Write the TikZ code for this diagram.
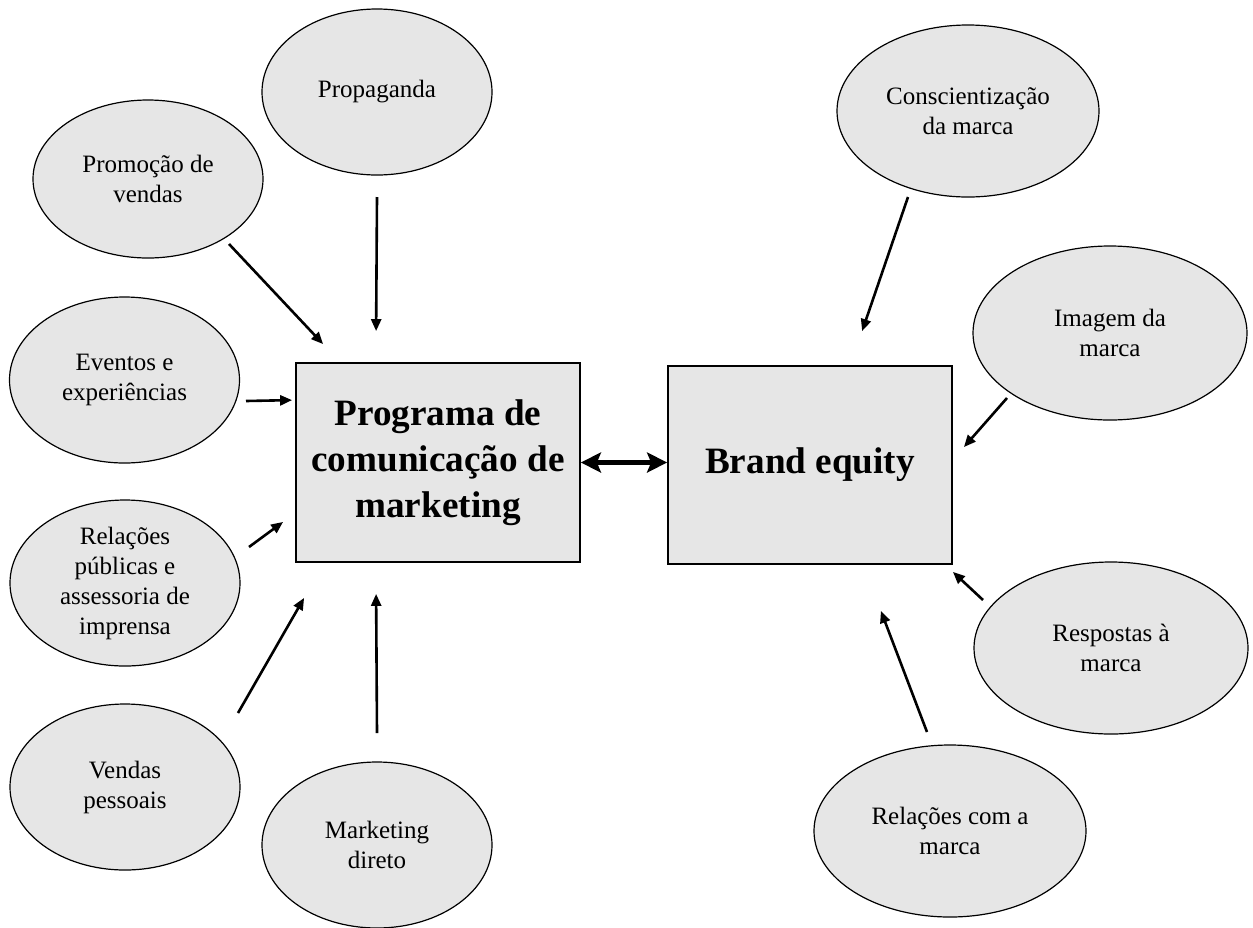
\documentclass[tikz,border=0pt]{standalone}
\usepackage{fontspec}
\setmainfont{Liberation Serif}
\usetikzlibrary{shapes.geometric,arrows.meta}
\definecolor{bubblegray}{HTML}{E6E6E6}
\begin{document}
\begin{tikzpicture}[x=0.5pt,y=-0.5pt,
  bubble/.style={ellipse,draw,line width=0.6pt,fill=bubblegray,minimum width=115pt,minimum height=83pt,inner sep=0pt,inner ysep=-4pt,align=center,font=\fontsize{12.5}{15}\selectfont},
  bigbox/.style={draw,line width=0.9pt,fill=bubblegray,minimum width=142pt,minimum height=99.5pt,align=center,font=\bfseries\fontsize{18.6}{23}\selectfont},
  arr/.style={-{Triangle[length=6pt,width=5pt]},line width=1.3pt},
  dblarr/.style={{Stealth[length=10pt,width=10pt,inset=2pt]}-{Stealth[length=10pt,width=10pt,inset=2pt]},line width=2.4pt}]
  \useasboundingbox (0,0) rectangle (1253,927);
  % the two boxes
  \node[bigbox] (prog) at (438,462.5) {Programa de\\comunicação de\\marketing};
  \node[bigbox,minimum height=99pt] (brand) at (810,465) {Brand equity};
  % communication tools, left side
  \node[bubble] (prop) at (377,92) {Propaganda};
  \node[bubble,minimum height=79pt] (prom) at (148,179) {Promoção de\\vendas};
  \node[bubble] (evt) at (124.5,380) {Eventos e\\experiências};
  \node[bubble] (rp) at (125,583) {Relações\\públicas e\\assessoria de\\imprensa};
  \node[bubble] (vp) at (125,787) {Vendas\\pessoais};
  \node[bubble] (mkt) at (377,845) {Marketing\\direto};
  % brand equity parts, right side
  \node[bubble,minimum width=131pt,minimum height=86pt] (cons) at (968,111) {Conscientização\\da marca};
  \node[bubble,minimum width=137pt,minimum height=87pt] (img) at (1110,333) {Imagem da\\marca};
  \node[bubble,minimum width=137pt,minimum height=86pt] (resp) at (1111,648) {Respostas à\\marca};
  \node[bubble,minimum width=136pt,minimum height=86pt] (rcm) at (950,831) {Relações com a\\marca};
  % arrows into the program box
  \draw[arr] ([shift={(0,105)}]prop.center) -- ([shift={(81,-31)}]prog.north west);
  \draw[arr] ([shift={(81,65)}]prom.center) -- ([shift={(28,-18)}]prog.north west);
  \draw[arr] ([shift={(121.5,21)}]evt.center) -- ([shift={(-3,38)}]prog.north west);
  \draw[arr] ([shift={(124,-36)}]rp.center) -- ([shift={(-12,-41)}]prog.south west);
  \draw[arr] ([shift={(113,-74)}]vp.center) -- ([shift={(9,35)}]prog.south west);
  \draw[arr] ([shift={(0,-112)}]mkt.center) -- ([shift={(81,31)}]prog.south west);
  % program <-> brand equity
  \draw[dblarr] (prog.east) -- (prog.east -| brand.west);
  % arrows into the brand equity box
  \draw[arr] ([shift={(-60,86)}]cons.center) -- ([shift={(195,-34)}]brand.north west);
  \draw[arr] ([shift={(-103,65)}]img.center) -- ([shift={(11,82)}]brand.north east);
  \draw[arr] ([shift={(-128,-48)}]resp.center) -- ([shift={(0,7)}]brand.south east);
  \draw[arr] ([shift={(-23,-99)}]rcm.center) -- ([shift={(-72,46)}]brand.south east);
\end{tikzpicture}
\end{document}
